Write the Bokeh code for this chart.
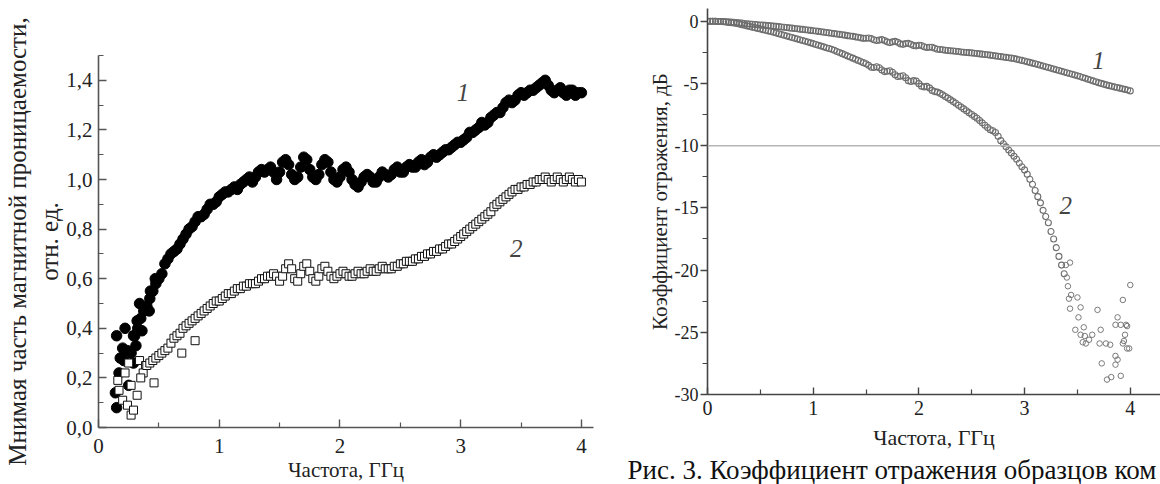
from bokeh.plotting import figure
from bokeh.layouts import row
from bokeh.models import FixedTicker, CustomJSTickFormatter, Span, Label, Range1d, Title
from bokeh.embed import file_html
from bokeh.resources import INLINE

FONT = "Liberation Serif"

# ---------------- Left panel: imaginary part of permeability ----------------
# curve 1 (filled circles), regular grid from 0.300 GHz, step 0.025 GHz
mu1_start, mu1_step = 0.300, 0.025
mu1_values = [
    0.37, 0.40, 0.44, 0.47, 0.49, 0.52, 0.55, 0.58,
    0.60, 0.62, 0.66, 0.68, 0.70, 0.71, 0.72, 0.74,
    0.76, 0.78, 0.80, 0.81, 0.83, 0.85, 0.85, 0.86,
    0.88, 0.90, 0.90, 0.91, 0.93, 0.94, 0.95, 0.95,
    0.96, 0.97, 0.96, 0.98, 0.99, 1.00, 1.01, 0.99,
    1.01, 1.03, 1.04, 1.03, 1.04, 1.05, 1.03, 1.00,
    1.03, 1.07, 1.08, 1.06, 1.02, 1.00, 1.01, 1.05,
    1.09, 1.08, 1.04, 1.01, 1.00, 1.02, 1.06, 1.08,
    1.07, 1.03, 1.00, 0.99, 1.01, 1.04, 1.05, 1.03,
    1.00, 0.98, 0.97, 0.99, 1.01, 1.02, 1.01, 0.99,
    0.99, 1.01, 1.03, 1.02, 1.01, 1.02, 1.04, 1.05,
    1.03, 1.03, 1.05, 1.06, 1.05, 1.05, 1.07, 1.08,
    1.06, 1.07, 1.09, 1.10, 1.09, 1.10, 1.11, 1.12,
    1.12, 1.13, 1.14, 1.15, 1.15, 1.16, 1.17, 1.19,
    1.19, 1.20, 1.21, 1.23, 1.22, 1.23, 1.25, 1.26,
    1.27, 1.27, 1.29, 1.31, 1.32, 1.31, 1.32, 1.34,
    1.35, 1.34, 1.35, 1.36, 1.36, 1.37, 1.38, 1.39,
    1.40, 1.38, 1.36, 1.35, 1.36, 1.37, 1.35, 1.34,
    1.36, 1.36, 1.34, 1.35, 1.35,
]
# curve 1 scattered low-frequency points
mu1_low_freq = [0.15, 0.14, 0.15, 0.17, 0.18, 0.20, 0.22, 0.24, 0.25, 0.29,
                0.31, 0.32, 0.29, 0.34, 0.36, 0.42, 0.43, 0.47, 0.21, 0.27]
mu1_low_vals = [0.37, 0.14, 0.08, 0.22, 0.28, 0.32, 0.40, 0.31, 0.17, 0.26,
                0.33, 0.43, 0.37, 0.50, 0.39, 0.47, 0.55, 0.60, 0.27, 0.30]

# curve 2 (open squares), regular grid from 0.400 GHz, step 0.025 GHz
mu2_start, mu2_step = 0.400, 0.025
mu2_values = [
    0.25, 0.26, 0.27, 0.28, 0.29, 0.30, 0.31, 0.32,
    0.34, 0.36, 0.37, 0.38, 0.40, 0.41, 0.42, 0.43,
    0.44, 0.45, 0.46, 0.47, 0.48, 0.49, 0.50, 0.51,
    0.51, 0.52, 0.53, 0.54, 0.54, 0.55, 0.56, 0.56,
    0.57, 0.57, 0.58, 0.58, 0.58, 0.59, 0.60, 0.60,
    0.61, 0.61, 0.62, 0.61, 0.59, 0.61, 0.64, 0.66,
    0.64, 0.60, 0.59, 0.62, 0.65, 0.66, 0.63, 0.60,
    0.59, 0.61, 0.64, 0.65, 0.63, 0.61, 0.60, 0.61,
    0.62, 0.63, 0.62, 0.61, 0.61, 0.62, 0.63, 0.62,
    0.62, 0.63, 0.64, 0.63, 0.63, 0.64, 0.65, 0.64,
    0.64, 0.64, 0.65, 0.65, 0.66, 0.66, 0.67, 0.67,
    0.67, 0.68, 0.68, 0.69, 0.69, 0.70, 0.70, 0.71,
    0.71, 0.72, 0.72, 0.73, 0.74, 0.74, 0.75, 0.76,
    0.77, 0.78, 0.79, 0.80, 0.81, 0.82, 0.83, 0.84,
    0.85, 0.86, 0.87, 0.89, 0.90, 0.91, 0.92, 0.93,
    0.94, 0.95, 0.96, 0.96, 0.97, 0.97, 0.98, 0.98,
    0.99, 0.99, 1.00, 1.00, 1.01, 1.00, 0.99, 1.00,
    1.01, 1.00, 0.99, 1.00, 1.01, 1.00, 0.99, 1.00,
    0.99,
]
mu2_low_freq = [0.16, 0.17, 0.20, 0.24, 0.27, 0.29, 0.27, 0.32, 0.22, 0.25,
                0.34, 0.39, 0.46, 0.37, 0.35, 0.80, 0.69]
mu2_low_vals = [0.19, 0.15, 0.11, 0.09, 0.05, 0.07, 0.17, 0.13, 0.22, 0.26,
                0.27, 0.25, 0.18, 0.22, 0.20, 0.35, 0.30]

# ---------------- Right panel: reflection coefficient, dB ----------------
# curve 1, regular grid from 0 GHz, step 0.025 GHz
r1_start, r1_step = 0.0, 0.025
r1_values = [
    0.00, 0.00, -0.01, -0.01, -0.02, -0.02, -0.03, -0.04,
    -0.05, -0.07, -0.09, -0.11, -0.13, -0.15, -0.18, -0.20,
    -0.22, -0.24, -0.26, -0.28, -0.30, -0.32, -0.34, -0.36,
    -0.38, -0.40, -0.42, -0.44, -0.47, -0.49, -0.51, -0.54,
    -0.56, -0.59, -0.61, -0.64, -0.66, -0.69, -0.71, -0.74,
    -0.77, -0.79, -0.82, -0.85, -0.88, -0.91, -0.94, -0.97,
    -1.00, -1.03, -1.06, -1.09, -1.12, -1.16, -1.19, -1.22,
    -1.26, -1.29, -1.34, -1.38, -1.37, -1.35, -1.40, -1.49,
    -1.55, -1.52, -1.48, -1.55, -1.66, -1.72, -1.66, -1.62,
    -1.70, -1.82, -1.86, -1.80, -1.78, -1.86, -1.96, -1.98,
    -1.93, -1.95, -2.05, -2.12, -2.10, -2.10, -2.18, -2.26,
    -2.28, -2.30, -2.33, -2.36, -2.38, -2.40, -2.42, -2.44,
    -2.47, -2.49, -2.51, -2.53, -2.55, -2.58, -2.60, -2.63,
    -2.65, -2.68, -2.70, -2.73, -2.76, -2.79, -2.82, -2.85,
    -2.88, -2.91, -2.94, -2.97, -3.00, -3.05, -3.10, -3.15,
    -3.20, -3.26, -3.31, -3.37, -3.42, -3.48, -3.54, -3.60,
    -3.66, -3.72, -3.78, -3.84, -3.90, -3.96, -4.02, -4.08,
    -4.14, -4.20, -4.26, -4.32, -4.38, -4.45, -4.52, -4.59,
    -4.66, -4.73, -4.80, -4.87, -4.94, -5.00, -5.06, -5.12,
    -5.18, -5.23, -5.28, -5.33, -5.38, -5.43, -5.48, -5.53,
    -5.60,
]
# curve 2, regular grid from 0 to 3.375 GHz, step 0.025 GHz
r2_start, r2_step = 0.0, 0.025
r2_values = [
    0.00, 0.00, -0.01, -0.01, -0.02, -0.03, -0.05, -0.07,
    -0.10, -0.12, -0.15, -0.19, -0.23, -0.28, -0.33, -0.38,
    -0.43, -0.48, -0.53, -0.58, -0.63, -0.68, -0.73, -0.78,
    -0.83, -0.89, -0.95, -1.01, -1.07, -1.13, -1.19, -1.25,
    -1.31, -1.37, -1.43, -1.49, -1.55, -1.61, -1.67, -1.74,
    -1.80, -1.87, -1.93, -2.00, -2.06, -2.13, -2.19, -2.26,
    -2.34, -2.43, -2.52, -2.61, -2.70, -2.79, -2.88, -2.97,
    -3.06, -3.15, -3.24, -3.33, -3.42, -3.55, -3.70, -3.72,
    -3.66, -3.74, -3.92, -4.05, -4.02, -3.98, -4.10, -4.30,
    -4.45, -4.42, -4.38, -4.55, -4.78, -4.85, -4.78, -4.82,
    -5.02, -5.22, -5.28, -5.24, -5.36, -5.56, -5.66, -5.70,
    -5.80, -5.92, -6.05, -6.18, -6.32, -6.46, -6.60, -6.75,
    -6.90, -7.05, -7.20, -7.35, -7.50, -7.65, -7.80, -7.98,
    -8.17, -8.36, -8.55, -8.72, -8.80, -8.95, -9.25, -9.60,
    -9.85, -10.10, -10.35, -10.60, -10.85, -11.10, -11.40, -11.70,
    -11.95, -12.30, -12.70, -13.10, -13.60, -14.10, -14.60, -15.20,
    -15.70, -16.20, -16.90, -17.50, -18.20, -18.90, -19.60, -20.30,
]
# curve 2 scattered high-frequency points
r2_tail_freq = [3.39, 3.40, 3.41, 3.42, 3.43, 3.43, 3.44, 3.48, 3.50, 3.51,
                3.53, 3.53, 3.55, 3.56, 3.57, 3.58, 3.61, 3.64, 3.69, 3.71,
                3.72, 3.73, 3.77, 3.78, 3.81, 3.82, 3.86, 3.86, 3.86, 3.88,
                3.88, 3.91, 3.91, 3.93, 3.93, 3.94, 3.95, 3.96, 3.97, 3.97,
                3.99, 4.00]
r2_tail_vals = [-19.6, -20.6, -21.3, -22.3, -23.1, -19.4, -22.0, -24.8, -22.2, -23.8,
                -23.0, -25.2, -25.8, -24.6, -25.3, -25.9, -25.6, -25.2, -23.2, -25.9,
                -24.8, -27.5, -25.9, -28.8, -26.0, -28.6, -24.4, -27.6, -26.9, -23.8,
                -27.2, -24.4, -28.5, -25.9, -22.4, -25.7, -25.2, -24.4, -24.5, -26.3,
                -26.3, -21.2]

x_ticks = [0, 1, 2, 3, 4]
x_minor = [0.5, 1.5, 2.5, 3.5]
mu_ticks = [0.0, 0.2, 0.4, 0.6, 0.8, 1.0, 1.2, 1.4]
mu_minor = [0.1, 0.3, 0.5, 0.7, 0.9, 1.1, 1.3, 1.5]
db_ticks = [0, -5, -10, -15, -20, -25, -30]
db_minor = [-2.5, -7.5, -12.5, -17.5, -22.5, -27.5]

caption_text = "Рис. 3. Коэффициент отражения образцов ком"


def grid(start, step, vals):
    return [round(start + step * i, 4) for i in range(len(vals))]


def style_axis(ax, color, size):
    ax.axis_line_color = color
    ax.axis_line_width = 1.6
    ax.major_tick_line_color = color
    ax.minor_tick_line_color = color
    ax.major_tick_line_width = 1.4
    ax.minor_tick_line_width = 1.2
    ax.major_label_text_font = FONT
    ax.major_label_text_font_size = size
    ax.major_label_text_color = "#222222"
    ax.axis_label_text_font = FONT
    ax.axis_label_text_font_style = "normal"
    ax.axis_label_text_color = "#222222"


# ---------------- Left figure ----------------
p1 = figure(width=620, height=484, x_range=Range1d(0, 4.1), y_range=Range1d(0, 1.5),
            output_backend="svg", toolbar_location=None, frame_align=False,
            min_border_left=96, min_border_right=27, min_border_top=55, min_border_bottom=56)
p1.outline_line_color = None
p1.grid.grid_line_color = None

p1.scatter(mu1_low_freq, mu1_low_vals, marker="circle", size=10.5, fill_color="black",
           line_color="black")
p1.scatter(grid(mu1_start, mu1_step, mu1_values), mu1_values, marker="circle", size=10.5,
           fill_color="black", line_color="black")
p1.scatter(mu2_low_freq, mu2_low_vals, marker="square", size=8, fill_color="white",
           line_color="#111111", line_width=1)
p1.scatter(grid(mu2_start, mu2_step, mu2_values), mu2_values, marker="square", size=8,
           fill_color="white", line_color="#111111", line_width=1)

for ax in (p1.xaxis[0], p1.yaxis[0]):
    style_axis(ax, "#555555", "21px")
    ax.major_tick_in = 8
    ax.major_tick_out = 0
    ax.minor_tick_in = 5
    ax.minor_tick_out = 0
p1.xaxis.ticker = FixedTicker(ticks=x_ticks, minor_ticks=x_minor)
p1.yaxis.ticker = FixedTicker(ticks=mu_ticks, minor_ticks=mu_minor)
p1.yaxis.formatter = CustomJSTickFormatter(code="return tick.toFixed(1).replace('.', ',');")
p1.xaxis.formatter = CustomJSTickFormatter(code="return tick.toFixed(0);")
p1.xaxis.major_label_standoff = 11
p1.yaxis.major_label_standoff = 6
p1.xaxis.axis_label = "Частота, ГГц"
p1.xaxis.axis_label_text_font_size = "21px"
p1.xaxis.axis_label_standoff = 2
p1.yaxis.axis_label = "Мнимая часть магнитной проницаемости,\nотн. ед."
p1.yaxis.axis_label_text_font_size = "25px"
p1.yaxis.axis_label_standoff = 0

p1.add_layout(Label(x=3.02, y=1.35, text="1", text_font=FONT, text_font_style="italic",
                    text_font_size="25px", text_align="center", text_baseline="middle"))
p1.add_layout(Label(x=3.46, y=0.72, text="2", text_font=FONT, text_font_style="italic",
                    text_font_size="25px", text_align="center", text_baseline="middle"))

# ---------------- Right figure ----------------
p2 = figure(width=540, height=484, x_range=Range1d(0, 4.286), y_range=Range1d(-30, 1.02),
            output_backend="svg", toolbar_location=None, frame_align=False,
            min_border_left=87, min_border_right=0, min_border_top=8, min_border_bottom=90)
p2.outline_line_color = None
p2.grid.grid_line_color = None

p2.add_layout(Span(location=-10, dimension="width", line_color="#b5b5b5", line_width=1.5))

p2.scatter(grid(r1_start, r1_step, r1_values), r1_values, marker="circle", size=6,
           fill_alpha=0, line_color="#6e6e6e", line_width=1.1)
p2.scatter(grid(r2_start, r2_step, r2_values), r2_values, marker="circle", size=6,
           fill_alpha=0, line_color="#6e6e6e", line_width=1.1)
p2.scatter(r2_tail_freq, r2_tail_vals, marker="circle", size=5.5,
           fill_alpha=0, line_color="#7a7a7a", line_width=1)

for ax in (p2.xaxis[0], p2.yaxis[0]):
    style_axis(ax, "#444444", "20px")
p2.xaxis.major_tick_in = 7
p2.xaxis.major_tick_out = 0
p2.xaxis.minor_tick_in = 5
p2.xaxis.minor_tick_out = 0
p2.yaxis.major_tick_in = 0
p2.yaxis.major_tick_out = 7
p2.yaxis.minor_tick_in = 0
p2.yaxis.minor_tick_out = 5
p2.yaxis.major_label_text_font_size = "18px"
p2.xaxis.ticker = FixedTicker(ticks=x_ticks, minor_ticks=x_minor)
p2.yaxis.ticker = FixedTicker(ticks=db_ticks, minor_ticks=db_minor)
p2.xaxis.formatter = CustomJSTickFormatter(code="return tick.toFixed(0);")
p2.yaxis.formatter = CustomJSTickFormatter(code="return tick.toFixed(0);")
p2.xaxis.major_label_standoff = 6
p2.yaxis.major_label_standoff = 2
p2.xaxis.axis_label = "Частота, ГГц"
p2.xaxis.axis_label_text_font_size = "22px"
p2.xaxis.axis_label_standoff = 7
p2.yaxis.axis_label = "Коэффициент отражения, дБ"
p2.yaxis.axis_label_text_font_size = "21px"
p2.yaxis.axis_label_standoff = 0

p2.add_layout(Label(x=3.70, y=-3.15, text="1", text_font=FONT, text_font_style="italic",
                    text_font_size="25px", text_align="center", text_baseline="middle"))
p2.add_layout(Label(x=3.39, y=-14.8, text="2", text_font=FONT, text_font_style="italic",
                    text_font_size="25px", text_align="center", text_baseline="middle"))
p2.add_layout(Title(text=caption_text,
                    text_font=FONT, text_font_size="27px", text_font_style="normal",
                    text_color="#111111", align="left", offset=-80, standoff=0),
              "below")

layout = row(p1, p2)
open("out.html", "w").write(file_html(layout, INLINE))
